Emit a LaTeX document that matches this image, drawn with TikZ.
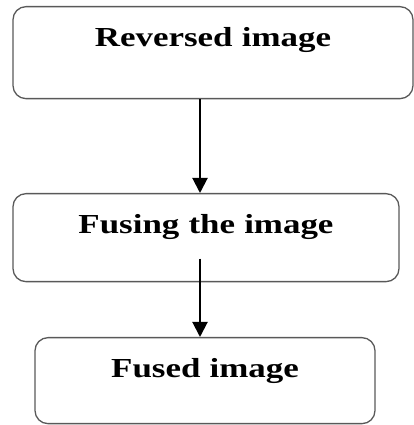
\documentclass[tikz,border=0pt]{standalone}
\usepackage{fontspec}
\newfontfamily\stagefont{Liberation Serif}[FakeStretch=1.27]
\usepackage{tikz}
\usetikzlibrary{arrows.meta, calc}

\tikzset{
	stage/.style={draw=black!65, line width=1.3pt, rounded corners=13pt, inner sep=0pt,
		align=center, text height=40pt, font=\stagefont\bfseries\fontsize{27.5}{30}\selectfont},
	flow/.style={line width=2pt, -{Triangle[width=15pt, length=15pt]}}
}

\begin{document}
\begin{tikzpicture}[x=1pt, y=1pt]
	\useasboundingbox (0,0) rectangle (414,425);
	\coordinate (axis) at (200,0);
	
	\node[stage, text width=400pt, text depth=52pt, anchor=north] (reversed) at (213,419) {Reversed image};
	\node[stage, text width=386pt, text depth=48pt, anchor=north] (fusing) at (206,232) {Fusing the image};
	\node[stage, text width=340pt, text depth=46pt, anchor=north] (fused) at (205,88) {Fused image};
	
	\coordinate (lead) at ($(fusing.base -| axis)+(0,-25)$);
	
	\draw[flow] (reversed.south -| axis) -- (fusing.north -| axis);
	\draw[flow] (lead) -- (fused.north -| axis);
\end{tikzpicture}
\end{document}
